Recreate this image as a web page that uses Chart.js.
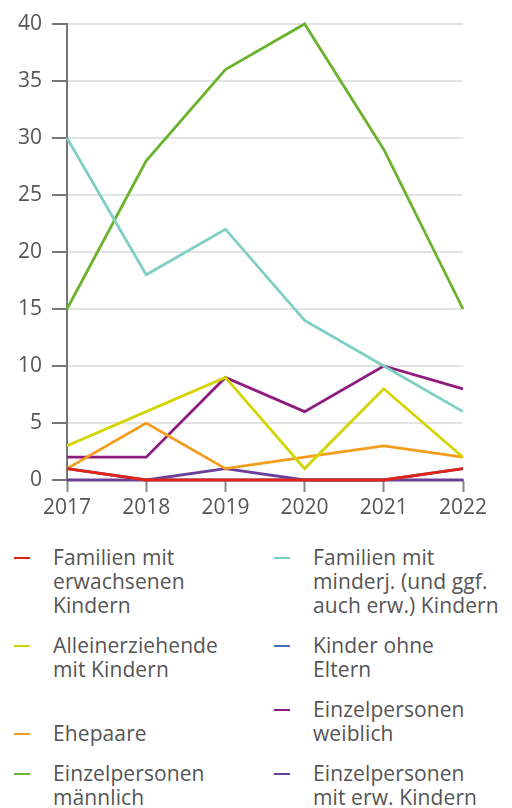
<!DOCTYPE html>
<html>
<head>
<meta charset="utf-8">
<script src="https://cdn.jsdelivr.net/npm/chart.js@4"></script>
<style>
  body { margin: 0; background: #fff; font-family: 'Open Sans', Lato, sans-serif; color: #555; }
  #wrap { position: relative; width: 512px; height: 530px; }
  #legend {
    display: grid; grid-template-columns: 260px 240px; row-gap: 16px;
    padding-left: 14px; margin-top: 15px; align-items: end;
    font-size: 21px; line-height: 24px; letter-spacing: 0.1px;
  }
  .item { display: flex; align-items: flex-start; white-space: nowrap; }
  .mark { width: 16px; height: 2px; margin-top: 12px; margin-right: 23px; flex: none; }
</style>
</head>
<body>
<div id="wrap"><canvas id="chart"></canvas></div>
<div id="legend"></div>
<script>
const years = ['2017', '2018', '2019', '2020', '2021', '2022'];

const famErw      = [1, 0, 0, 0, 0, 1];
const famMinderj  = [30, 18, 22, 14, 10, 6];
const alleinerz   = [3, 6, 9, 1, 8, 2];
const kinderOhne  = [1, 0, 0, 0, 0, 1];
const ehepaare    = [1, 5, 1, 2, 3, 2];
const einzelW     = [2, 2, 9, 6, 10, 8];
const einzelM     = [15, 28, 36, 40, 29, 15];
const einzelErwK  = [0, 0, 1, 0, 0, 0];

const yTicks = [0, 5, 10, 15, 20, 25, 30, 35, 40];

const series = [
  { label: ['Familien mit', 'erwachsenen', 'Kindern'], data: famErw, color: '#e2231a' },
  { label: ['Familien mit', 'minderj. (und ggf.', 'auch erw.) Kindern'], data: famMinderj, color: '#80cfc5' },
  { label: ['Alleinerziehende', 'mit Kindern'], data: alleinerz, color: '#d4d400' },
  { label: ['Kinder ohne', 'Eltern'], data: kinderOhne, color: '#4a6db3' },
  { label: ['Ehepaare'], data: ehepaare, color: '#f59c1a' },
  { label: ['Einzelpersonen', 'weiblich'], data: einzelW, color: '#8e1c7f' },
  { label: ['Einzelpersonen', 'männlich'], data: einzelM, color: '#6ab42d' },
  { label: ['Einzelpersonen', 'mit erw. Kindern'], data: einzelErwK, color: '#6b3e98' }
];

const tickFont = { family: 'Open Sans', size: 21 };

new Chart(document.getElementById('chart'), {
  type: 'line',
  data: {
    labels: years,
    datasets: series.map(s => ({
      label: s.label.join(' '),
      data: s.data,
      borderColor: s.color,
      backgroundColor: s.color,
      borderWidth: 2.8,
      pointRadius: 0,
      tension: 0,
      clip: 6
    }))
  },
  options: {
    responsive: true,
    maintainAspectRatio: false,
    animation: false,
    layout: { padding: { top: 24, right: 49, left: 0, bottom: 0 } },
    plugins: { legend: { display: false }, tooltip: { enabled: false } },
    scales: {
      x: {
        offset: false,
        grid: { drawOnChartArea: false, drawTicks: true, tickLength: 12, tickColor: '#888', tickWidth: 2 },
        border: { color: '#777', width: 2 },
        ticks: { color: '#555', font: tickFont, padding: 3, maxRotation: 0 },
        afterFit: scale => { scale.height = 50; }
      },
      y: {
        min: 0, max: 40,
        afterBuildTicks: scale => { scale.ticks = yTicks.map(v => ({ value: v })); },
        grid: { color: '#e3e3e3', lineWidth: 2, tickLength: 15, tickColor: '#777', tickWidth: 2 },
        border: { color: '#777', width: 2 },
        ticks: { color: '#555', font: tickFont, padding: 10 },
        afterFit: scale => { scale.width = 67; }
      }
    }
  }
});

// Legende in zwei Spalten
const legend = document.getElementById('legend');
legend.innerHTML = series.map(s =>
  `<div class="item"><span class="mark" style="background:${s.color}"></span><span>${s.label.join('<br>')}</span></div>`
).join('');
</script>
</body>
</html>
